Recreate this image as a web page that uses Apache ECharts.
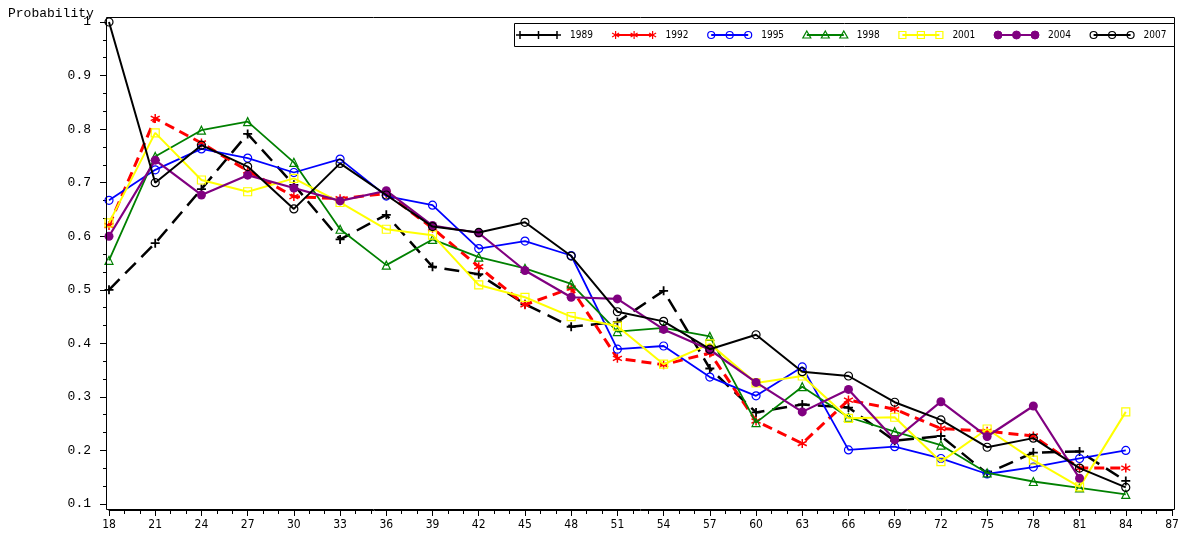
<!DOCTYPE html>
<html>
<head>
<meta charset="utf-8">
<title>Probability by age</title>
<script src="https://cdn.jsdelivr.net/npm/echarts@6/dist/echarts.min.js"></script>
<style>
  html, body { margin: 0; padding: 0; background: #fff; }
  #chart { width: 1188px; height: 538px; }
</style>
</head>
<body>
<div id="chart"></div>
<script>
// Age groups on the horizontal axis
const ages = [18, 21, 24, 27, 30, 33, 36, 39, 42, 45, 48, 51, 54, 57, 60, 63, 66, 69, 72, 75, 78, 81, 84];

// Probability by age, one list per survey year
const p1989 = [0.500, 0.587, 0.688, 0.791, 0.696, 0.594, 0.640, 0.543, 0.529, 0.473, 0.431, 0.440, 0.498, 0.353, 0.271, 0.286, 0.280, 0.218, 0.227, 0.157, 0.196, 0.198, 0.143];
const p1992 = [0.620, 0.820, 0.774, 0.722, 0.674, 0.670, 0.680, 0.615, 0.543, 0.472, 0.503, 0.372, 0.360, 0.382, 0.255, 0.213, 0.294, 0.277, 0.241, 0.236, 0.227, 0.167, 0.167];
const p1995 = [0.667, 0.724, 0.763, 0.746, 0.719, 0.744, 0.675, 0.658, 0.577, 0.591, 0.564, 0.389, 0.395, 0.337, 0.302, 0.356, 0.201, 0.207, 0.185, 0.156, 0.169, 0.185, 0.200];
const p1998 = [0.555, 0.749, 0.798, 0.814, 0.738, 0.613, 0.546, 0.594, 0.561, 0.540, 0.511, 0.422, 0.429, 0.413, 0.252, 0.319, 0.262, 0.235, 0.210, 0.158, 0.142, 0.130, 0.118];
const p2001 = [0.625, 0.793, 0.705, 0.683, 0.708, 0.663, 0.613, 0.602, 0.509, 0.486, 0.450, 0.432, 0.361, 0.399, 0.326, 0.339, 0.260, 0.262, 0.179, 0.240, 0.182, 0.132, 0.272];
const p2004 = [0.600, 0.742, 0.677, 0.714, 0.690, 0.666, 0.685, 0.620, 0.606, 0.536, 0.486, 0.483, 0.426, 0.388, 0.327, 0.272, 0.314, 0.220, 0.291, 0.226, 0.283, 0.148, null];
const p2007 = [1.000, 0.700, 0.770, 0.730, 0.651, 0.736, 0.677, 0.618, 0.607, 0.626, 0.563, 0.459, 0.441, 0.389, 0.416, 0.347, 0.339, 0.290, 0.257, 0.206, 0.223, 0.167, 0.131];

const years = ['1989', '1992', '1995', '1998', '2001', '2004', '2007'];
const values = [p1989, p1992, p1995, p1998, p2001, p2004, p2007];

// Appearance of each year's line and marker
const styles = [
  { color: '#000000', width: 2.5, dash: [15, 8], marker: 'plus',     size: 9 },
  { color: '#ff0000', width: 3,   dash: [10, 6], marker: 'star',     size: 9 },
  { color: '#0000ff', width: 1.8, dash: null,    marker: 'ocircle',  size: 8 },
  { color: '#008000', width: 1.8, dash: null,    marker: 'triangle', size: 8 },
  { color: '#ffff00', width: 2,   dash: null,    marker: 'square',   size: 8 },
  { color: '#800080', width: 2.2, dash: null,    marker: 'fcircle',  size: 9 },
  { color: '#000000', width: 2,   dash: null,    marker: 'ocircle',  size: 8 }
];

const PLUS = 'path://M5,0L5,10M0,5L10,5';
const STAR = 'path://M5,0L5,10M0.7,2.5L9.3,7.5M9.3,2.5L0.7,7.5';

function seriesSymbol(st) {
  switch (st.marker) {
    case 'plus': return { symbol: PLUS, item: { color: 'rgba(0,0,0,0)', borderColor: st.color, borderWidth: 1.8 } };
    case 'star': return { symbol: STAR, item: { color: 'rgba(0,0,0,0)', borderColor: st.color, borderWidth: 1.5 } };
    case 'ocircle': return { symbol: 'circle', item: { color: 'rgba(0,0,0,0)', borderColor: st.color, borderWidth: 1.2 } };
    case 'triangle': return { symbol: 'triangle', item: { color: 'rgba(0,0,0,0)', borderColor: st.color, borderWidth: 1.2 } };
    case 'square': return { symbol: 'rect', item: { color: 'rgba(0,0,0,0)', borderColor: st.color, borderWidth: 1.2 } };
    case 'fcircle': return { symbol: 'circle', item: { color: st.color, borderColor: st.color, borderWidth: 0 } };
  }
}

const series = years.map((y, i) => {
  const st = styles[i];
  const sym = seriesSymbol(st);
  return {
    name: y,
    type: 'line',
    data: ages.map((a, k) => [a, values[i][k]]),
    connectNulls: false,
    symbol: sym.symbol,
    symbolSize: st.size,
    showAllSymbol: true,
    itemStyle: sym.item,
    lineStyle: { color: st.color, width: st.width, type: st.dash ? st.dash : 'solid' },
    emphasis: { disabled: true },
    z: 2 + i
  };
});

// Legend drawn as a boxed row: a short line with three markers, then the year
function legendMarker(st, cx, cy) {
  const c = st.color;
  switch (st.marker) {
    case 'plus':
      return [
        { type: 'line', shape: { x1: cx - 4, y1: cy, x2: cx + 4, y2: cy }, style: { stroke: c, lineWidth: 1.5 } },
        { type: 'line', shape: { x1: cx, y1: cy - 4, x2: cx, y2: cy + 4 }, style: { stroke: c, lineWidth: 1.5 } }
      ];
    case 'star':
      return [
        { type: 'line', shape: { x1: cx, y1: cy - 4, x2: cx, y2: cy + 4 }, style: { stroke: c, lineWidth: 1.2 } },
        { type: 'line', shape: { x1: cx - 3.5, y1: cy - 2, x2: cx + 3.5, y2: cy + 2 }, style: { stroke: c, lineWidth: 1.2 } },
        { type: 'line', shape: { x1: cx + 3.5, y1: cy - 2, x2: cx - 3.5, y2: cy + 2 }, style: { stroke: c, lineWidth: 1.2 } }
      ];
    case 'ocircle':
      return [{ type: 'circle', shape: { cx: cx, cy: cy, r: 3.5 }, style: { fill: 'none', stroke: c, lineWidth: 1.2 } }];
    case 'fcircle':
      return [{ type: 'circle', shape: { cx: cx, cy: cy, r: 4 }, style: { fill: c, stroke: c, lineWidth: 1 } }];
    case 'triangle':
      return [{ type: 'polygon', shape: { points: [[cx, cy - 4], [cx + 4, cy + 3], [cx - 4, cy + 3]] }, style: { fill: 'none', stroke: c, lineWidth: 1.2 } }];
    case 'square':
      return [{ type: 'rect', shape: { x: cx - 3.5, y: cy - 3.5, width: 7, height: 7 }, style: { fill: 'none', stroke: c, lineWidth: 1.2 } }];
  }
}

const legendX0 = 520, legendStep = 95.6, legendY = 35, sampleLen = 37;
const legendGraphics = [
  { type: 'rect', shape: { x: 514.5, y: 23.5, width: 660, height: 23 }, style: { fill: '#fff', stroke: '#000', lineWidth: 1 }, z: 50, silent: true }
];
years.forEach((y, i) => {
  const st = styles[i];
  const x0 = legendX0 + legendStep * i;
  const parts = [
    { type: 'line', shape: { x1: x0, y1: legendY, x2: x0 + sampleLen, y2: legendY }, style: { stroke: st.color, lineWidth: Math.min(st.width, 2.2) } }
  ];
  [0, sampleLen / 2, sampleLen].forEach(dx => { parts.push(...legendMarker(st, x0 + dx, legendY)); });
  parts.push({
    type: 'text', x: x0 + 50, y: legendY,
    style: { text: y, fill: '#000', font: '10px "Liberation Sans Narrow", "DejaVu Sans Condensed", sans-serif', verticalAlign: 'middle', align: 'left' }
  });
  parts.forEach(el => { el.z = 60; el.silent = true; legendGraphics.push(el); });
});

const chart = echarts.init(document.getElementById('chart'), null, { renderer: 'canvas' });
chart.setOption({
  animation: false,
  backgroundColor: '#ffffff',
  grid: { left: 109, right: 16, top: 22, bottom: 34, containLabel: false },
  title: {
    text: 'Probability', left: 3, top: 2,
    textStyle: { fontFamily: '"Liberation Mono", "DejaVu Sans Mono", monospace', fontSize: 13, fontWeight: 'normal', color: '#000' }
  },
  xAxis: {
    type: 'value', min: 18, max: 87, interval: 3, offset: 6,
    axisLine: { show: true, lineStyle: { color: '#000', width: 1 } },
    axisTick: { show: true, length: 6, lineStyle: { color: '#000' } },
    minorTick: { show: true, splitNumber: 3, length: 4, lineStyle: { color: '#000' } },
    splitLine: { show: false },
    axisLabel: { margin: 9, color: '#000', fontSize: 12, fontFamily: '"Liberation Sans Narrow", "DejaVu Sans Condensed", sans-serif' }
  },
  yAxis: {
    type: 'value', min: 0.1, max: 1, interval: 0.1, offset: 3,
    axisLine: { show: true, lineStyle: { color: '#000', width: 1 } },
    axisTick: { show: true, length: 6, lineStyle: { color: '#000' } },
    minorTick: { show: true, splitNumber: 3, length: 3, lineStyle: { color: '#000' } },
    splitLine: { show: false },
    axisLabel: {
      margin: 15, color: '#000', fontSize: 13,
      fontFamily: '"Liberation Mono", "DejaVu Sans Mono", monospace',
      formatter: v => { const r = Math.round(v * 10) / 10; return r === 1 ? '1' : r.toFixed(1); }
    }
  },
  graphic: [
    { type: 'rect', shape: { x: 106.5, y: 17.5, width: 1068, height: 492 }, style: { fill: 'none', stroke: '#000', lineWidth: 1 }, z: 40, silent: true },
    ...legendGraphics
  ],
  series: series
});
</script>
</body>
</html>
